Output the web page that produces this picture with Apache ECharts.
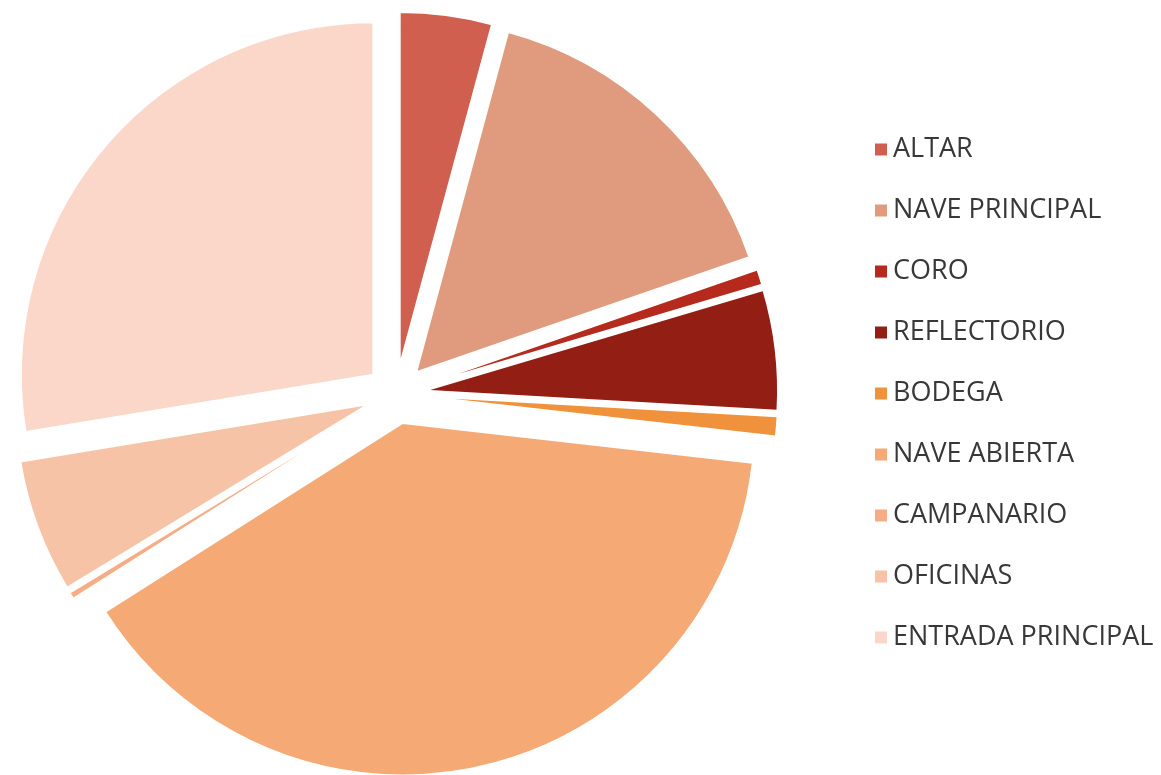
<!DOCTYPE html>
<html>
<head>
<meta charset="utf-8">
<title>Distribución de espacios</title>
<script src="https://cdn.jsdelivr.net/npm/echarts@6/dist/echarts.min.js"></script>
<style>
  html, body { margin: 0; padding: 0; background: #ffffff; }
  #chart { width: 1161px; height: 775px; }
</style>
</head>
<body>
<div id="chart"></div>
<script>
// Areas of each space, in slice order (clockwise from 12 o'clock)
const categories = [
  'ALTAR', 'NAVE PRINCIPAL', 'CORO', 'REFLECTORIO', 'BODEGA',
  'NAVE ABIERTA', 'CAMPANARIO', 'OFICINAS', 'ENTRADA PRINCIPAL'
];
const values = [42, 155, 7, 55, 9, 392, 3, 61, 276];
const colors = [
  '#d15f50', '#e09b7e', '#b52a1d', '#931e14', '#f0923b',
  '#f5a975', '#f4ad85', '#f6c3a7', '#fad7c8'
];

const pieData = categories.map((name, i) => ({
  name: name,
  value: values[i],
  selected: true,
  itemStyle: { color: colors[i] }
}));

const chart = echarts.init(document.getElementById('chart'));
chart.setOption({
  animation: false,
  backgroundColor: '#ffffff',
  legend: {
    orient: 'vertical',
    left: 868,
    top: 131,
    icon: 'rect',
    itemWidth: 14,
    itemHeight: 14,
    itemGap: 34,
    selectedMode: false,
    data: categories,
    textStyle: {
      fontFamily: 'Open Sans',
      fontSize: 27,
      lineHeight: 24,
      color: '#383838',
      padding: [0, 0, 0, 0]
    }
  },
  series: [{
    type: 'pie',
    center: [396, 394],
    radius: 352,
    startAngle: 90,
    clockwise: true,
    selectedMode: 'multiple',
    selectedOffset: 30,
    label: { show: false },
    labelLine: { show: false },
    emphasis: { disabled: true },
    itemStyle: { borderColor: '#ffffff', borderWidth: 1.5 },
    data: pieData
  }]
});
</script>
</body>
</html>
